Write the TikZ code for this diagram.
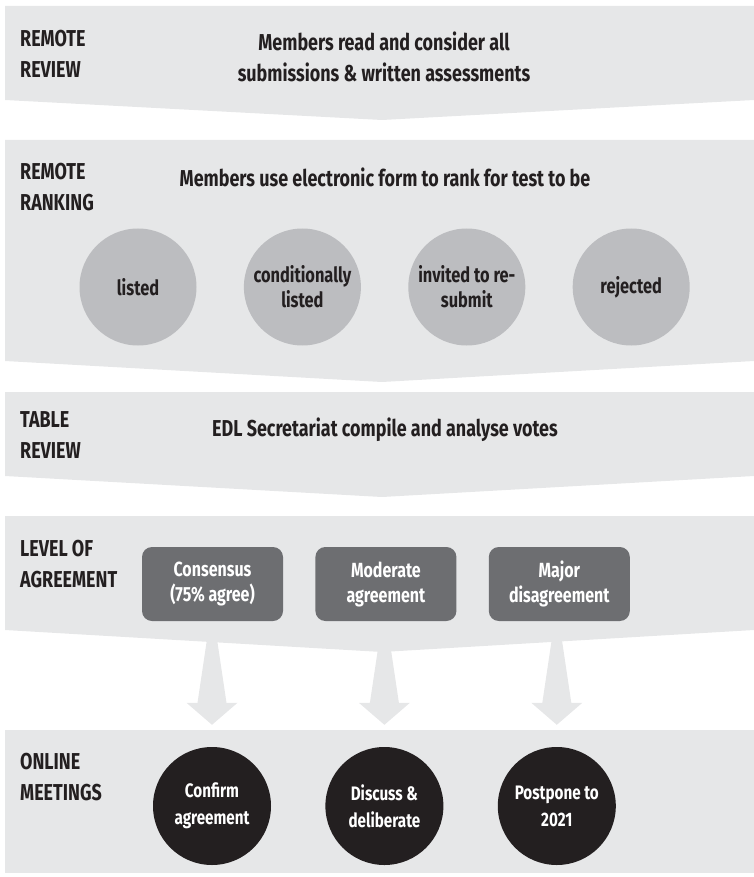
\documentclass[tikz,border=0pt]{standalone}
\usepackage{fontspec}
\setmainfont{Fira Sans}[FakeStretch=0.78]
\usetikzlibrary{positioning,calc}
\definecolor{bandgray}{HTML}{E6E7E8}
\definecolor{circgray}{HTML}{BCBDC0}
\definecolor{boxgray}{HTML}{6D6E71}
\definecolor{inkblack}{HTML}{231F20}

\begin{document}
\begin{tikzpicture}[x=1pt,y=-1pt,node distance=48pt,
    every node/.style={inner sep=0pt,align=center,text=inkblack,font=\bfseries\fontsize{23}{30.5}\selectfont},
    bandlabel/.style={anchor=west,align=left},
    vote/.style={circle,fill=circgray,minimum size=117pt,font=\bfseries\fontsize{21}{25}\selectfont},
    level/.style={rounded corners=10pt,fill=boxgray,text=white,minimum width=141pt,minimum height=74pt,font=\bfseries\fontsize{20.5}{25}\selectfont},
    outcome/.style={circle,fill=inkblack,text=white,minimum size=118pt,font=\bfseries\fontsize{19.5}{27}\selectfont}]
    \useasboundingbox (0,0) rectangle (754,877);
    % bands
    \fill[bandgray] (5,6) -- (754,6) -- (754,100) -- (382,120) -- (5,100) -- cycle;
    \fill[bandgray] (5,140) -- (754,140) -- (754,361) -- (382,382) -- (5,361) -- cycle;
    \fill[bandgray] (5,392) -- (754,392) -- (754,476) -- (382,497) -- (5,476) -- cycle;
    \fill[bandgray] (5,516) -- (754,516) -- (754,630) -- (382,652) -- (5,630) -- cycle;
    \fill[bandgray] (5,730) rectangle (754,873);

    \node[bandlabel](rr)at(20,54){REMOTE\\REVIEW};
    \node(read)at(384,57){Members read and consider all\\submissions \& written assessments};

    \node[bandlabel](rk)at(20,187){REMOTE\\RANKING};
    \node(rank)at(385,177){Members use electronic form to rank for test to be};
    \node[vote](listed)at(138,287){listed};
    \node[vote](cond)[right=47pt of listed]{conditionally\\listed};
    \node[vote](invited)[right=47pt of cond]{invited to re-\\submit};
    \node[vote](rejected)[right=47pt of invited]{rejected};

    \node[bandlabel](tr)at(20,435){TABLE\\REVIEW};
    \node(votes)at(385,430){EDL Secretariat compile and analyse votes};

    \node[bandlabel](la)at(20,564){LEVEL OF\\AGREEMENT};
    \node[level](cons)at(212.5,584){Consensus\\(75\% agree)};
    \node[level](mod)[right=32pt of cons]{Moderate\\agreement};
    \node[level](major)[right=32pt of mod]{Major\\disagreement};

    \node[bandlabel](om)at(20,777){ONLINE\\MEETINGS};
    \node[outcome](conf)at(212,806){Confirm\\agreement};
    \node[outcome](disc)[right=54pt of conf]{Discuss \&\\deliberate};
    \node[outcome](post)[right=54pt of disc]{Postpone to\\2021};

    % arrows from level to meeting
    \foreach \a/\b in {cons/conf,mod/disc,major/post}
        \fill[bandgray,shift={(\b.north)}] (0,-22) -- (-25.5,-44) -- (-14.5,-44) -- (-4.5,-111)
            -- (4.5,-111) -- (14.5,-44) -- (25.5,-44) -- cycle;
\end{tikzpicture}
\end{document}
